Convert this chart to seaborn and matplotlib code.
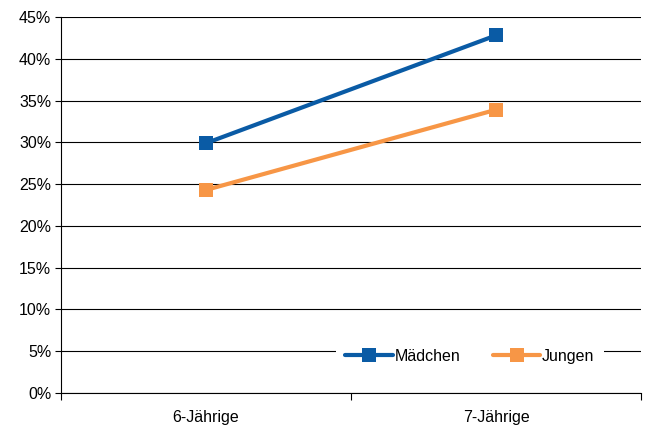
import pandas as pd
import seaborn as sns
import matplotlib.pyplot as plt
from matplotlib.ticker import FixedLocator, PercentFormatter

categories = ['6-Jährige', '7-Jährige']
maedchen = [29.9, 42.8]
jungen = [24.3, 33.9]
series_names = ['Mädchen', 'Jungen']

df = pd.DataFrame({
    'Alter': categories * 2,
    'Anteil': maedchen + jungen,
    'Gruppe': [series_names[0]] * 2 + [series_names[1]] * 2,
})

sns.set_style('white', {'text.color': 'black', 'xtick.color': 'black', 'ytick.color': 'black'})
plt.rcParams['font.family'] = ['Liberation Sans', 'DejaVu Sans']

fig = plt.figure(figsize=(6.47, 4.37), dpi=100)
ax = fig.add_axes([61 / 647, 1 - 393 / 437, 580 / 647, 376 / 437])

# gridlines behind
ax.set_axisbelow(True)
ax.yaxis.grid(True, color='black', linewidth=0.8)

sns.lineplot(data=df, x='Alter', y='Anteil', hue='Gruppe', style='Gruppe',
             markers=['s', 's'], dashes=False, palette=['#0a5ba5', '#f79646'],
             linewidth=3, markersize=10, markeredgewidth=0, ax=ax, zorder=3)

ax.set_ylim(0, 45)
ax.set_xlim(-0.5, 1.5)
ax.set_yticks(range(0, 46, 5))
ax.yaxis.set_major_formatter(PercentFormatter(decimals=0))
ax.xaxis.set_major_locator(FixedLocator([-0.5, 0.5, 1.5]))
ax.xaxis.set_minor_locator(FixedLocator([0, 1]))
ax.set_xticklabels([], minor=False)
ax.set_xticklabels(categories, minor=True)
ax.tick_params(axis='x', which='major', direction='out', length=5, width=0.8, color='black', bottom=True)
ax.tick_params(axis='x', which='minor', length=0, labelsize=11.5, pad=12, labelcolor='black')
ax.tick_params(axis='y', direction='out', length=4, width=0.8, color='black', left=True,
               labelsize=11.5, pad=3, labelcolor='black')
ax.set_xlabel('')
ax.set_ylabel('')

for side in ['top', 'right']:
    ax.spines[side].set_visible(False)
for side in ['left', 'bottom']:
    ax.spines[side].set_color('black')
    ax.spines[side].set_linewidth(0.8)

handles, labels = ax.get_legend_handles_labels()
leg = ax.legend(handles, labels, loc='center', bbox_to_anchor=(0.705, 0.098), ncol=2,
                frameon=True, fancybox=False, framealpha=1, edgecolor='white',
                fontsize=11.5, handlelength=3.0, handletextpad=0.1, columnspacing=2.0,
                borderpad=0.6, labelcolor='black')
leg.get_frame().set_linewidth(0)

fig.savefig('out.png', dpi=100)
